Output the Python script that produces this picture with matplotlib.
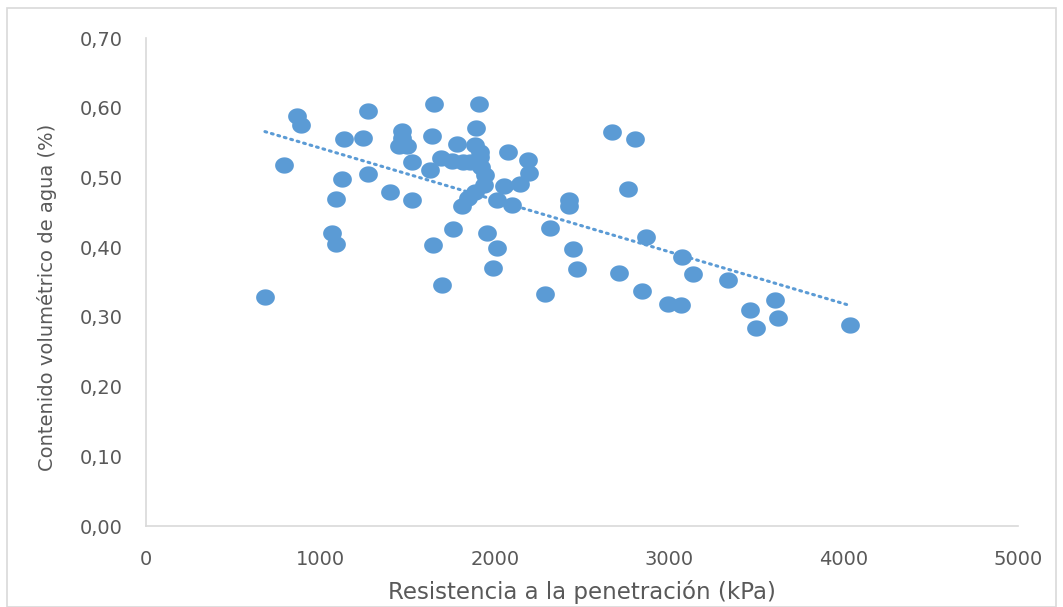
import numpy as np
import matplotlib.pyplot as plt
from matplotlib.path import Path
from matplotlib.patches import Rectangle

# resistencia a la penetracion (kPa) y contenido volumetrico de agua
resistencia = [682, 791, 866, 889, 1067, 1089, 1089, 1124, 1135, 1244,
               1273, 1273, 1399, 1468, 1468, 1451, 1497, 1525, 1525, 1651,
               1640, 1628, 1691, 1755, 1818, 1783, 1909, 1892, 1886, 1915,
               1915, 1921, 1944, 1938, 1886, 1846, 1812, 2076, 2190, 2196,
               2144, 2053, 2013, 2099, 1760, 1955, 2013, 1990, 1646, 1697,
               2288, 2317, 2425, 2425, 2448, 2471, 2672, 2804, 2764, 2867,
               2712, 2844, 2993, 3068, 3073, 3136, 3337, 3463, 3498, 3607,
               3624, 4037, 1858]
agua = [0.329, 0.518, 0.588, 0.575, 0.420, 0.405, 0.469, 0.498, 0.555, 0.557,
        0.595, 0.505, 0.479, 0.567, 0.557, 0.545, 0.545, 0.522, 0.468, 0.605,
        0.560, 0.511, 0.528, 0.524, 0.522, 0.548, 0.605, 0.571, 0.547, 0.537,
        0.529, 0.515, 0.504, 0.489, 0.479, 0.471, 0.459, 0.537, 0.525, 0.506,
        0.491, 0.488, 0.468, 0.461, 0.426, 0.420, 0.399, 0.370, 0.403, 0.346,
        0.333, 0.428, 0.468, 0.459, 0.397, 0.369, 0.565, 0.555, 0.484, 0.415,
        0.363, 0.337, 0.319, 0.317, 0.386, 0.362, 0.353, 0.310, 0.284, 0.324,
        0.298, 0.288, 0.522]

xticks = [0, 1000, 2000, 3000, 4000, 5000]
yticks = [0.0, 0.1, 0.2, 0.3, 0.4, 0.5, 0.6, 0.7]

azul = '#5B9BD5'
gris = '#595959'

plt.rcParams['font.family'] = ['DejaVu Sans']

fig = plt.figure(figsize=(10.63, 6.07), dpi=100)
ax = fig.add_axes([146/1063, 1-526/607, (1018-146)/1063, (526-38)/607])

# marcador eliptico como en excel
t = np.linspace(0, 2*np.pi, 60)
elipse = Path(np.column_stack([1.15*np.cos(t), np.sin(t)]), closed=True)

x = np.array(resistencia)
y = np.array(agua)
ax.plot(x, y, linestyle='none', marker=elipse, markersize=13.5,
        color=azul, markeredgewidth=0)

# linea de tendencia lineal
m, b = np.polyfit(x, y, 1)
xt = np.array([x.min(), x.max()])
ax.plot(xt, m*xt + b, linestyle=(0, (0.6, 1.6)), color=azul, lw=2.2,
        dash_capstyle='round')

ax.set_xlim(0, 5000)
ax.set_ylim(0, 0.7)
ax.set_xticks(xticks)
ax.set_yticks(yticks)
ax.set_yticklabels([f'{v:.2f}'.replace('.', ',') for v in yticks])
ax.tick_params(length=0, colors=gris, labelsize=14)
ax.tick_params(axis='y', pad=17)
ax.tick_params(axis='x', pad=17)
for s in ['top', 'right']:
    ax.spines[s].set_visible(False)
for s in ['left', 'bottom']:
    ax.spines[s].set_color('#D9D9D9')
    ax.spines[s].set_linewidth(1.2)

fig.text(582/1063, 1-592/607, 'Resistencia a la penetración (kPa)',
         ha='center', va='center', fontsize=16.5, color=gris)
fig.text(47/1063, 1-297/607, 'Contenido volumétrico de agua (%)',
         ha='center', va='center', rotation=90, fontsize=14, color=gris)

fig.patches.append(Rectangle((7/1063, 0), 1-14/1063, 1-8/607,
                             transform=fig.transFigure, fill=False,
                             edgecolor='#D9D9D9', lw=1.2))

fig.savefig('out.png', dpi=100, facecolor='white')
